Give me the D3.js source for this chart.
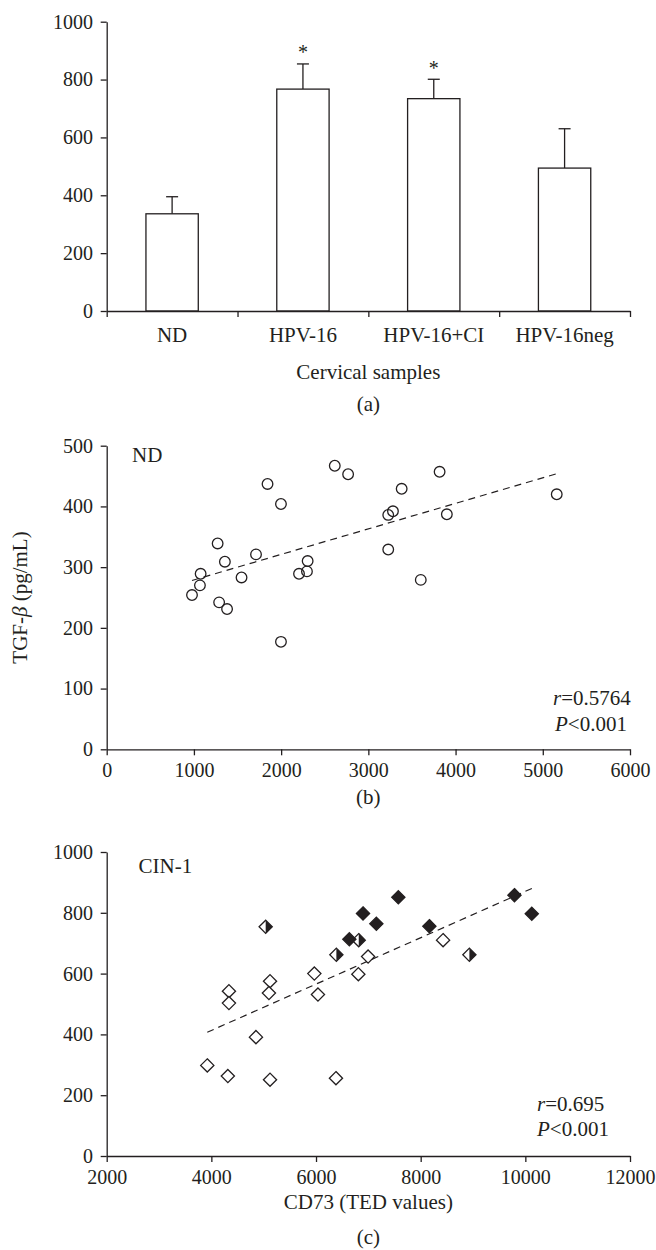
<!DOCTYPE html>
<html>
<head>
<meta charset="utf-8">
<script src="https://cdn.jsdelivr.net/npm/d3@7"></script>
<style>
  body { margin: 0; background: #fff; }
  svg text { font-family: "Liberation Serif", "DejaVu Serif", serif; }
</style>
</head>
<body>
<div id="chart"></div>
<script>
const WIDTH = 656;
const HEIGHT = 1250;
const INK = "#231f20";
const FONT = 21;      // labels
const TICK_FONT = 20; // tick numbers
const X0 = 106.7;
const X1 = 630;

// (a) bar chart
const categories = ["ND", "HPV-16", "HPV-16+CI", "HPV-16neg"];
const meanValues = [336, 767, 734, 494];
const errorValues = [59, 87, 67, 136];
const significant = [false, true, true, false];
const barTicks = [0, 200, 400, 600, 800, 1000];

// (b) ND scatter
const ndCD73 = [978, 1077, 1069, 1272, 1289, 1380, 1355, 1546, 1712, 1844, 1998, 1998, 2205,
  2296, 2304, 2615, 2768, 3228, 3282, 3228, 3382, 3601, 3817, 3900, 5160];
const ndTGF = [254, 289, 270, 339, 242, 231, 309, 283, 321, 437, 404, 177, 289,
  293, 310, 467, 453, 386, 392, 329, 429, 279, 457, 387, 420];
const ndFitX = [978, 5164];
const ndFitY = [278, 454];
const ndXTicks = [0, 1000, 2000, 3000, 4000, 5000, 6000];
const ndYTicks = [0, 100, 200, 300, 400, 500];

// (c) CIN-1 scatter; marker: 0 open, 1 half filled, 2 filled
const cinCD73 = [3922, 4315, 4336, 4336, 4852, 5121, 5100, 5121, 5968, 6037, 6381, 6809, 6995, 8428,
  5038, 6389, 6816, 8931,
  6637, 6898, 7153, 7573, 8166, 9792, 10123];
const cinTGF = [298, 263, 542, 503, 391, 575, 536, 251, 600, 531, 256, 598, 656, 710,
  754, 662, 710, 662,
  713, 798, 764, 851, 756, 858, 797];
const cinMarker = [0, 0, 0, 0, 0, 0, 0, 0, 0, 0, 0, 0, 0, 0,
  1, 1, 1, 1,
  2, 2, 2, 2, 2, 2, 2];
const cinFitX = [3922, 10137];
const cinFitY = [407, 881];
const cinXTicks = [2000, 4000, 6000, 8000, 10000, 12000];
const cinYTicks = [0, 200, 400, 600, 800, 1000];

const plain = d3.format("d");

const svg = d3.select("#chart")
  .append("svg")
  .attr("width", WIDTH)
  .attr("height", HEIGHT)
  .attr("viewBox", `0 0 ${WIDTH} ${HEIGHT}`);

svg.append("rect").attr("width", WIDTH).attr("height", HEIGHT).attr("fill", "#fff");

function styleAxis(g, size = TICK_FONT) {
  g.attr("font-family", null).attr("font-size", size);
  g.selectAll("path, line").attr("stroke", INK).attr("stroke-width", 1.3);
  g.selectAll("text").attr("fill", INK);
  return g;
}

function addText(x, y, str, opts = {}) {
  return svg.append("text")
    .attr("x", x)
    .attr("y", y)
    .attr("font-size", opts.size || FONT)
    .attr("fill", INK)
    .attr("text-anchor", opts.anchor || "start")
    .text(str);
}

function addStat(x, y, italicPart, rest) {
  const t = svg.append("text")
    .attr("x", x)
    .attr("y", y)
    .attr("font-size", FONT)
    .attr("fill", INK);
  t.append("tspan").attr("font-style", "italic").text(italicPart);
  t.append("tspan").text(rest);
}

function diamondPath(h) {
  const p = d3.path();
  p.moveTo(0, -h);
  p.lineTo(h, 0);
  p.lineTo(0, h);
  p.lineTo(-h, 0);
  p.closePath();
  return p.toString();
}

function rightHalfPath(h) {
  const p = d3.path();
  p.moveTo(0, -h);
  p.lineTo(h, 0);
  p.lineTo(0, h);
  p.closePath();
  return p.toString();
}

function drawBars() {
  const y = d3.scaleLinear().domain([0, 1000]).range([311, 21.7]);
  const xBand = d3.scaleBand().domain(categories).range([X0, X1]).paddingInner(0.6).paddingOuter(0.3);
  const xEdge = d3.scaleLinear().domain([0, categories.length]).range([X0, X1]);

  styleAxis(svg.append("g")
    .attr("transform", `translate(${X0},0)`)
    .call(d3.axisLeft(y).tickValues(barTicks).tickFormat(plain)
      .tickSize(6).tickPadding(7.7).tickSizeOuter(0)));

  const bars = svg.append("g");
  categories.forEach((c, i) => {
    const cx = xBand(c) + xBand.bandwidth() / 2;
    const top = y(meanValues[i] + errorValues[i]);
    bars.append("line")
      .attr("x1", cx).attr("x2", cx)
      .attr("y1", y(meanValues[i])).attr("y2", top)
      .attr("stroke", INK).attr("stroke-width", 1.3);
    bars.append("line")
      .attr("x1", cx - 6).attr("x2", cx + 6)
      .attr("y1", top).attr("y2", top)
      .attr("stroke", INK).attr("stroke-width", 1.3);
    if (significant[i]) {
      addText(cx, top - 4.5, "*", { anchor: "middle", size: 20 });
    }
  });

  bars.selectAll("rect")
    .data(categories)
    .join("rect")
    .attr("x", (d) => xBand(d))
    .attr("y", (d, i) => y(meanValues[i]))
    .attr("width", xBand.bandwidth())
    .attr("height", (d, i) => y(0) - y(meanValues[i]))
    .attr("fill", "#fff")
    .attr("stroke", INK)
    .attr("stroke-width", 1.3);

  styleAxis(svg.append("g")
    .attr("transform", `translate(0,${y(0)})`)
    .call(d3.axisBottom(xEdge).tickValues(d3.range(categories.length + 1))
      .tickFormat("").tickSize(6).tickSizeOuter(0)));

  const labels = styleAxis(svg.append("g")
    .attr("transform", `translate(0,${y(0)})`)
    .call(d3.axisBottom(xBand).tickSize(0).tickPadding(15.6)), FONT);
  labels.select(".domain").remove();

  addText((X0 + X1) / 2, 379, "Cervical samples", { anchor: "middle" });
  addText((X0 + X1) / 2, 411, "(a)", { anchor: "middle" });
}

function drawScatterAxes(x, y, xTicks, yTicks) {
  styleAxis(svg.append("g")
    .attr("transform", `translate(0,${y.range()[0]})`)
    .call(d3.axisBottom(x).tickValues(xTicks).tickFormat(plain)
      .tickSize(6).tickPadding(7.5).tickSizeOuter(0)));
  styleAxis(svg.append("g")
    .attr("transform", `translate(${X0},0)`)
    .call(d3.axisLeft(y).tickValues(yTicks).tickFormat(plain)
      .tickSize(6).tickPadding(7.7).tickSizeOuter(0)));
}

function drawFit(x, y, fx, fy) {
  const line = d3.line().x((d) => x(d[0])).y((d) => y(d[1]));
  svg.append("path")
    .attr("d", line(d3.zip(fx, fy)))
    .attr("fill", "none")
    .attr("stroke", INK)
    .attr("stroke-width", 1.2)
    .attr("stroke-dasharray", "7,5");
}

function drawND() {
  const x = d3.scaleLinear().domain([0, 6000]).range([X0, X1]);
  const y = d3.scaleLinear().domain([0, 500]).range([749.3, 445.7]);
  drawScatterAxes(x, y, ndXTicks, ndYTicks);
  drawFit(x, y, ndFitX, ndFitY);

  svg.append("g")
    .selectAll("circle")
    .data(d3.zip(ndCD73, ndTGF))
    .join("circle")
    .attr("cx", (d) => x(d[0]))
    .attr("cy", (d) => y(d[1]))
    .attr("r", 5.3)
    .attr("fill", "none")
    .attr("stroke", INK)
    .attr("stroke-width", 1.3);

  addText(132, 462.3, "ND");
  addStat(553, 705, "r", "=0.5764");
  addStat(555, 730.7, "P", "<0.001");
  addText((X0 + X1) / 2, 804, "(b)", { anchor: "middle" });

  const yl = svg.append("text")
    .attr("transform", `translate(27,${(y.range()[0] + y.range()[1]) / 2}) rotate(-90)`)
    .attr("text-anchor", "middle")
    .attr("font-size", FONT)
    .attr("fill", INK);
  yl.append("tspan").text("TGF-");
  yl.append("tspan").attr("font-style", "italic").text("β");
  yl.append("tspan").text(" (pg/mL)");
}

function drawCIN() {
  const x = d3.scaleLinear().domain([2000, 12000]).range([X0, X1]);
  const y = d3.scaleLinear().domain([0, 1000]).range([1156, 852]);
  drawScatterAxes(x, y, cinXTicks, cinYTicks);
  drawFit(x, y, cinFitX, cinFitY);

  const h = 6.6;
  const pts = svg.append("g")
    .selectAll("g")
    .data(d3.zip(cinCD73, cinTGF, cinMarker))
    .join("g")
    .attr("transform", (d) => `translate(${x(d[0])},${y(d[1])})`);

  pts.append("path")
    .attr("d", diamondPath(h))
    .attr("fill", (d) => (d[2] === 2 ? INK : "#fff"));
  pts.filter((d) => d[2] === 1)
    .append("path")
    .attr("d", rightHalfPath(h))
    .attr("fill", INK);
  pts.append("path")
    .attr("d", diamondPath(h))
    .attr("fill", "none")
    .attr("stroke", INK)
    .attr("stroke-width", 1.3)
    .attr("stroke-linejoin", "miter");

  addText(138.5, 873.3, "CIN-1");
  addStat(537, 1111, "r", "=0.695");
  addStat(537, 1136, "P", "<0.001");
  addText((X0 + X1) / 2, 1209, "CD73 (TED values)", { anchor: "middle" });
  addText((X0 + X1) / 2, 1243.5, "(c)", { anchor: "middle" });
}

drawBars();
drawND();
drawCIN();
</script>
</body>
</html>
